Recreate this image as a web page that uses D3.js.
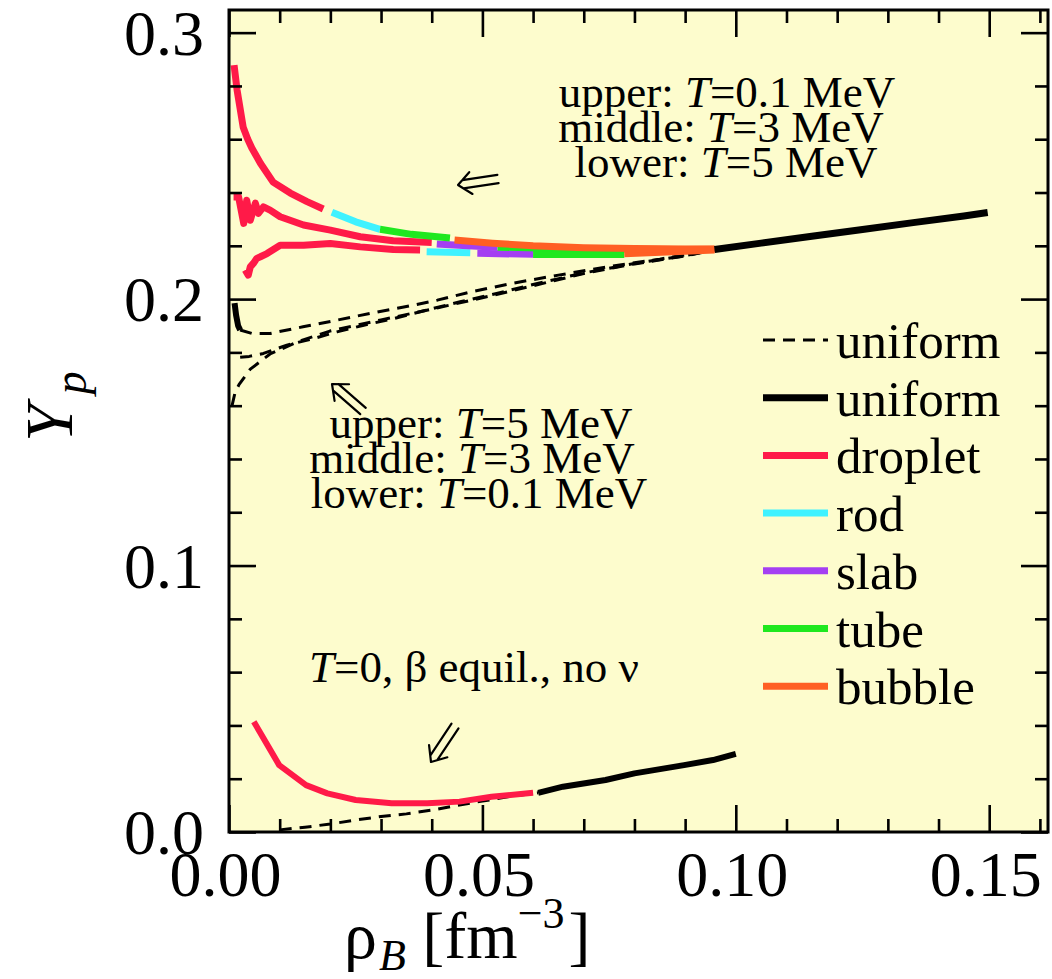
<!DOCTYPE html>
<html>
<head>
<meta charset="utf-8">
<script src="https://cdn.jsdelivr.net/npm/d3@7"></script>
<style>
  html, body { margin: 0; padding: 0; background: #ffffff; }
  svg text { font-family: "Liberation Serif", "Times New Roman", serif; fill: #000; }
</style>
</head>
<body>
<svg id="chart" width="1052" height="979"></svg>
<script>
// ---- axis ticks ----
const xMajorTicks = [0, 0.05, 0.10, 0.15];
const xMajorLabels = ["0.00", "0.05", "0.10", "0.15"];
const xMinorTicks = [0.01, 0.02, 0.03, 0.04, 0.06, 0.07, 0.08, 0.09, 0.11, 0.12, 0.13, 0.14, 0.16];
const yMajorTicks = [0, 0.1, 0.2, 0.3];
const yMajorLabels = ["0.0", "0.1", "0.2", "0.3"];
const yMinorTicks = [0.02, 0.04, 0.06, 0.08, 0.12, 0.14, 0.16, 0.18, 0.22, 0.24, 0.26, 0.28];

// ---- T = 0.1 MeV (upper set of pasta curves) ----
const dropletT01 = [[0.0010,0.2878],[0.0016,0.2784],[0.0028,0.2645],[0.0037,0.2600],[0.0045,0.2567],[0.0062,0.2510],[0.0087,0.2439],[0.0121,0.2398],[0.0154,0.2366],[0.0186,0.2338]];
const rodT01 = [[0.0203,0.2326],[0.0250,0.2290],[0.0298,0.2262]];
const tubeT01 = [[0.0298,0.2262],[0.0360,0.2243],[0.0436,0.2229]];
const bubbleT01 = [[0.0445,0.2222],[0.0520,0.2210],[0.0600,0.2200],[0.0700,0.2193],[0.0800,0.2190],[0.0900,0.2188],[0.0958,0.2188]];

// ---- T = 3 MeV (middle set) ----
const dropletT3 = [[0.0009,0.2383],[0.0019,0.2383],[0.0029,0.2284],[0.0035,0.2371],[0.0042,0.2296],[0.0052,0.2360],[0.0058,0.2322],[0.0068,0.2346],[0.0081,0.2334],[0.0101,0.2309],[0.0147,0.2278],[0.0200,0.2259],[0.0259,0.2234],[0.0324,0.2219],[0.0400,0.2212]];
const slabT3 = [[0.0410,0.2207],[0.0470,0.2200],[0.0530,0.2195]];
const tubeT3 = [[0.0530,0.2195],[0.0650,0.2190],[0.0780,0.2187]];
const bubbleT3 = [[0.0780,0.2187],[0.0880,0.2186],[0.0958,0.2187]];

// ---- T = 5 MeV (lower set) ----
const dropletT5 = [[0.0032,0.2109],[0.0038,0.2090],[0.0042,0.2121],[0.0048,0.2134],[0.0055,0.2153],[0.0062,0.2159],[0.0075,0.2171],[0.0101,0.2202],[0.0147,0.2202],[0.0200,0.2209],[0.0259,0.2196],[0.0324,0.2186],[0.0377,0.2184]];
const rodT5 = [[0.0390,0.2178],[0.0476,0.2174]];
const slabT5 = [[0.0490,0.2172],[0.0600,0.2168]];
const tubeT5 = [[0.0600,0.2167],[0.0780,0.2167]];
const bubbleT5 = [[0.0780,0.2170],[0.0958,0.2184]];

// ---- uniform matter, finite T ----
const uniformSolidHigh = [[0.0958,0.2186],[0.1050,0.2210],[0.1150,0.2236],[0.1250,0.2261],[0.1350,0.2287],[0.1450,0.2312],[0.1497,0.2325]];
const uniformSolidLowT5 = [[0.0011,0.1985],[0.0014,0.1940],[0.0018,0.1900],[0.0022,0.1884]];
const uniformDashT5 = [[0.0022,0.1884],[0.0045,0.1871],[0.0081,0.1871],[0.0146,0.1896],[0.0213,0.1921],[0.0280,0.1947],[0.0345,0.1970],[0.0411,0.1996],[0.0477,0.2027],[0.0561,0.2060],[0.0650,0.2090],[0.0750,0.2122],[0.0850,0.2150],[0.0958,0.2185]];
const uniformDashT3 = [[0.0022,0.1782],[0.0040,0.1785],[0.0068,0.1796],[0.0114,0.1827],[0.0167,0.1852],[0.0213,0.1877],[0.0266,0.1902],[0.0325,0.1927],[0.0390,0.1959],[0.0456,0.1990],[0.0528,0.2021],[0.0600,0.2055],[0.0700,0.2098],[0.0800,0.2134],[0.0900,0.2163],[0.0958,0.2185]];
const uniformDashT01 = [[0.0006,0.1600],[0.0012,0.1650],[0.0020,0.1680],[0.0042,0.1737],[0.0081,0.1794],[0.0140,0.1843],[0.0199,0.1880],[0.0300,0.1922],[0.0400,0.1962],[0.0500,0.2005],[0.0600,0.2050],[0.0700,0.2096],[0.0800,0.2132],[0.0900,0.2162],[0.0958,0.2185]];

// ---- T = 0, beta equilibrium, no neutrinos ----
const dropletT0 = [[0.0049,0.0414],[0.0099,0.0251],[0.0152,0.0176],[0.0194,0.0145],[0.0250,0.0120],[0.0321,0.0108],[0.0391,0.0108],[0.0455,0.0114],[0.0518,0.0132],[0.0600,0.0147]];
const uniformSolidT0 = [[0.0610,0.0147],[0.0659,0.0170],[0.0743,0.0195],[0.0800,0.0220],[0.0898,0.0251],[0.0955,0.0270],[0.1000,0.0293]];
const uniformDashT0 = [[0.0100,0.0008],[0.0150,0.0018],[0.0200,0.0030],[0.0250,0.0045],[0.0300,0.0058],[0.0350,0.0068],[0.0400,0.0082],[0.0450,0.0100],[0.0500,0.0116],[0.0560,0.0135],[0.0610,0.0147]];

// ---- legend ----
const legendLabels = ["uniform", "uniform", "droplet", "rod", "slab", "tube", "bubble"];
const legendKinds = ["dash", "solid", "droplet", "rod", "slab", "tube", "bubble"];

// ---- styling ----
const phaseColor = {
  solid: "#000000", dash: "#000000",
  droplet: "#ff1a48", rod: "#3ff2ff", slab: "#a43ff2", tube: "#1fe81f", bubble: "#ff5f24"
};
const plotBg = "#fdfccd";

const svg = d3.select("#chart");
const x = d3.scaleLinear().domain([0, 0.1616]).range([229, 1048]);
const y = d3.scaleLinear().domain([0, 0.3085]).range([832, 10]);

// plot background
svg.append("rect")
  .attr("x", x(0)).attr("y", y(0.3085))
  .attr("width", x(0.1616) - x(0)).attr("height", y(0) - y(0.3085))
  .attr("fill", plotBg);

const line = d3.line().x(d => x(d[0])).y(d => y(d[1]));
const curves = svg.append("g");

function drawCurve(data, kind, width) {
  const p = curves.append("path")
    .attr("d", line(data))
    .attr("fill", "none")
    .attr("stroke", phaseColor[kind])
    .attr("stroke-width", width)
    .attr("stroke-linejoin", "round")
    .attr("stroke-linecap", "butt");
  if (kind === "dash") p.attr("stroke-dasharray", "12,8");
  return p;
}

// dashed uniform lines (underneath)
[uniformDashT5, uniformDashT3, uniformDashT01, uniformDashT0].forEach(d => drawCurve(d, "dash", 3));
drawCurve(uniformSolidLowT5, "solid", 6);

// pasta phases at finite T
drawCurve(dropletT01, "droplet", 7);
drawCurve(dropletT3, "droplet", 7);
drawCurve(dropletT5, "droplet", 7);
drawCurve(rodT01, "rod", 7);
drawCurve(rodT5, "rod", 7);
drawCurve(slabT3, "slab", 7);
drawCurve(slabT5, "slab", 7);
drawCurve(tubeT01, "tube", 7);
drawCurve(tubeT5, "tube", 7);
drawCurve(bubbleT5, "bubble", 7);
drawCurve(tubeT3, "tube", 7);
drawCurve(bubbleT3, "bubble", 7);
drawCurve(bubbleT01, "bubble", 7);
drawCurve(uniformSolidHigh, "solid", 7);

// T = 0 curves
drawCurve(dropletT0, "droplet", 6);
drawCurve(uniformSolidT0, "solid", 6);

// ---- ticks on all four sides, pointing inward ----
function tickAxis(axisFn, scale, vals, size, tx, ty) {
  const g = svg.append("g").attr("transform", `translate(${tx},${ty})`)
    .call(axisFn(scale).tickValues(vals).tickSize(size).tickFormat(""));
  g.select(".domain").remove();
  g.selectAll(".tick line").attr("stroke", "#000").attr("stroke-width", 2.6);
  return g;
}
tickAxis(d3.axisBottom, x, xMinorTicks, -13, 0, y(0));
tickAxis(d3.axisBottom, x, xMajorTicks, -27, 0, y(0));
tickAxis(d3.axisTop, x, xMinorTicks, -13, 0, y(0.3085));
tickAxis(d3.axisTop, x, xMajorTicks, -27, 0, y(0.3085));
tickAxis(d3.axisLeft, y, yMinorTicks, -13, x(0), 0);
tickAxis(d3.axisLeft, y, yMajorTicks, -27, x(0), 0);
tickAxis(d3.axisRight, y, yMinorTicks, -13, x(0.1616), 0);
tickAxis(d3.axisRight, y, yMajorTicks, -27, x(0.1616), 0);

// frame
svg.append("rect")
  .attr("x", x(0)).attr("y", y(0.3085))
  .attr("width", x(0.1616) - x(0)).attr("height", y(0) - y(0.3085))
  .attr("fill", "none").attr("stroke", "#000").attr("stroke-width", 3);

// tick labels
const xl = svg.append("g").attr("transform", `translate(0,${y(0)})`)
  .call(d3.axisBottom(x).tickValues(xMajorTicks).tickSize(0).tickPadding(19)
    .tickFormat((d, i) => xMajorLabels[i]));
xl.select(".domain").remove();
xl.selectAll("text").attr("font-size", 64).attr("dx", -4)
  .style("font-family", '"Liberation Serif", serif');

const yl = svg.append("g").attr("transform", `translate(${x(0)},0)`)
  .call(d3.axisLeft(y).tickValues(yMajorTicks).tickSize(0).tickPadding(25)
    .tickFormat((d, i) => yMajorLabels[i]));
yl.select(".domain").remove();
yl.selectAll("text").attr("font-size", 64).attr("dy", "0.34em")
  .style("font-family", '"Liberation Serif", serif');

// axis titles
const yt = svg.append("text")
  .attr("transform", "translate(72,442) rotate(-90)")
  .attr("font-size", 68);
yt.append("tspan").attr("font-style", "italic").text("Y");
yt.append("tspan").attr("font-style", "italic").attr("font-size", 46)
  .attr("dx", 10).attr("dy", 14).text("p");

const xt = svg.append("text").attr("x", 344).attr("y", 958).attr("font-size", 66);
xt.append("tspan").text("ρ");
xt.append("tspan").attr("font-style", "italic").attr("font-size", 44).attr("dx", 2).attr("dy", 12).text("B");
xt.append("tspan").attr("dy", -12).text(" [fm");
xt.append("tspan").attr("font-size", 44).attr("dy", -30).text("−3");
xt.append("tspan").attr("dx", 4).attr("dy", 30).text("]");

// annotations
function tLine(cx, by, before, after, size) {
  const t = svg.append("text").attr("x", cx).attr("y", by)
    .attr("text-anchor", "middle").attr("font-size", size);
  t.append("tspan").text(before);
  t.append("tspan").attr("font-style", "italic").text("T");
  t.append("tspan").text(after);
  return t;
}
tLine(727, 107, "upper: ", "=0.1 MeV", 45);
tLine(721, 142, "middle: ", "=3 MeV", 45);
tLine(726, 177, "lower: ", "=5 MeV", 45);

tLine(481, 438, "upper: ", "=5 MeV", 45);
tLine(472, 473, "middle: ", "=3 MeV", 45);
tLine(479, 508, "lower: ", "=0.1 MeV", 45);

tLine(474, 682, "", "=0, β equil., no ν", 45);

// thin double-stroke arrows pointing from tail to tip
function doubleArrow(tail, tip) {
  const dx = tip[0] - tail[0], dy = tip[1] - tail[1];
  const len = Math.hypot(dx, dy);
  const ux = dx / len, uy = dy / len, nx = -uy, ny = ux;
  const gap = 4.2, headLen = 13, headHalf = 11;
  const back = headLen * gap / headHalf;
  const p = d3.path();
  [-1, 1].forEach(s => {
    p.moveTo(tail[0] + s * nx * gap, tail[1] + s * ny * gap);
    p.lineTo(tip[0] - ux * back + s * nx * gap, tip[1] - uy * back + s * ny * gap);
  });
  p.moveTo(tip[0] - ux * headLen + nx * headHalf, tip[1] - uy * headLen + ny * headHalf);
  p.lineTo(tip[0], tip[1]);
  p.lineTo(tip[0] - ux * headLen - nx * headHalf, tip[1] - uy * headLen - ny * headHalf);
  svg.append("path").attr("d", p.toString())
    .attr("fill", "none").attr("stroke", "#000").attr("stroke-width", 2.2)
    .attr("stroke-linejoin", "round").attr("stroke-linecap", "round");
}
doubleArrow([498, 179], [458, 185]);
doubleArrow([363, 411], [332, 384]);
doubleArrow([455, 726], [431, 762]);

// legend
const lg = svg.append("g");
legendKinds.forEach((k, i) => {
  const ly = 340 + i * 57.7;
  const l = lg.append("line")
    .attr("x1", 763).attr("x2", 828).attr("y1", ly).attr("y2", ly)
    .attr("stroke", phaseColor[k])
    .attr("stroke-width", k === "dash" ? 3 : 7);
  if (k === "dash") l.attr("stroke-dasharray", "12,8");
  lg.append("text").attr("x", 836).attr("y", ly + 18)
    .attr("font-size", 51).text(legendLabels[i]);
});
</script>
</body>
</html>
